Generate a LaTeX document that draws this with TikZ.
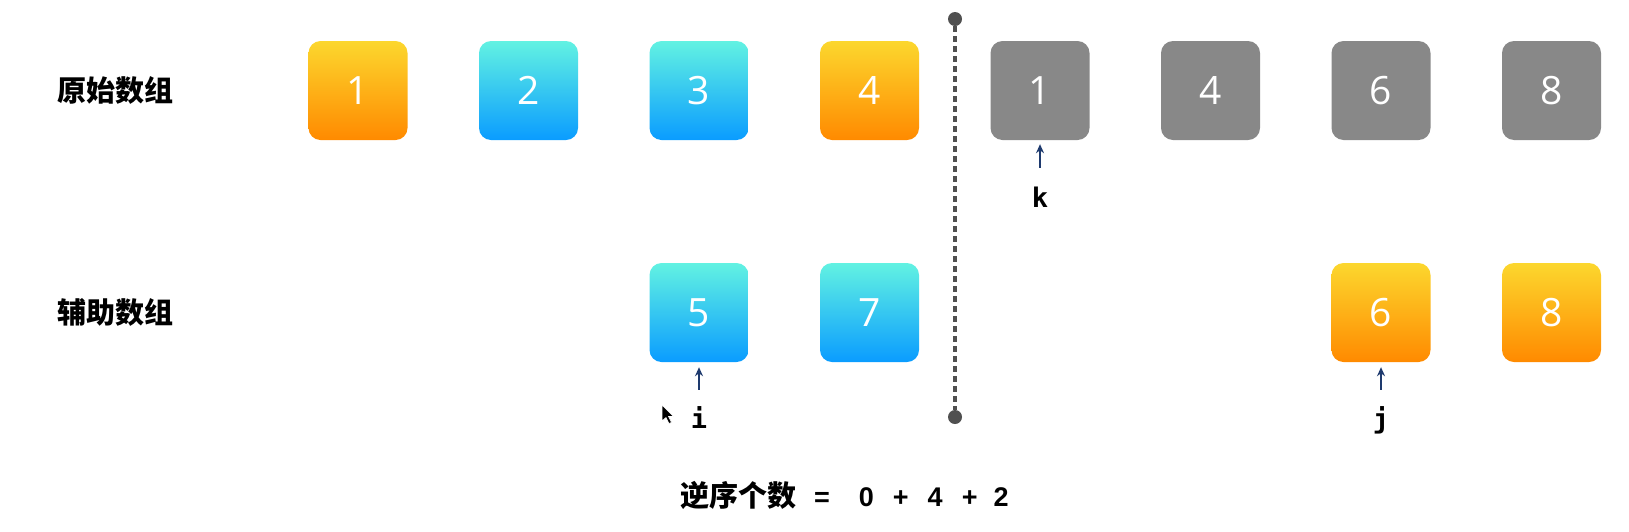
\documentclass[tikz,border=0pt]{standalone}
\usepackage{fontspec}
\usetikzlibrary{arrows.meta}
\newfontfamily\cjk{Noto Sans CJK SC}
\newfontfamily\numfont{Open Sans}
\newfontfamily\monob{DejaVu Sans Mono}
\newfontfamily\eqfont{Liberation Sans}
\definecolor{orTop}{HTML}{FCD72E}
\definecolor{orBot}{HTML}{FF8A00}
\definecolor{blTop}{HTML}{62F2E2}
\definecolor{blBot}{HTML}{0A9CFF}
\definecolor{grBox}{HTML}{888888}
\definecolor{navy}{HTML}{1E3A6E}
\definecolor{dotc}{HTML}{505050}
\tikzset{
  cell/.style={rounded corners=12pt, minimum size=99pt, inner sep=0pt,
    text=white, font=\numfont\fontsize{39}{40}\selectfont},
  orange/.style={cell, top color=orTop, bottom color=orBot},
  blue/.style={cell, top color=blTop, bottom color=blBot},
  gray/.style={cell, fill=grBox},
  rowlabel/.style={anchor=west, inner sep=0pt, font=\cjk\bfseries\fontsize{29}{30}\selectfont},
  ptrlabel/.style={anchor=base, inner sep=0pt, text height=20pt, text depth=6pt,
    font=\monob\bfseries\fontsize{27}{28}\selectfont},
  ptr/.style={draw=navy, line width=1.8pt, -{Stealth[length=9pt,width=8pt]}},
  enddot/.style={circle, fill=dotc, minimum size=14pt, inner sep=0pt},
  divider/.style={draw=dotc, line width=3.5pt, dash pattern=on 6pt off 4pt},
}
\begin{document}
\begin{tikzpicture}[x=1pt, y=-1pt]
\useasboundingbox (0,0) rectangle (1629,531);
% row labels
\node[rowlabel] (lab1) at (57,90.5) {原始数组};
\node[rowlabel] (lab2) at (57,312.5) {辅助数组};
% row 1
\node[orange] (o1) at (358,90.5) {1};
\node[blue]   (o2) at (528.5,90.5) {2};
\node[blue]   (o3) at (699,90.5) {3};
\node[orange] (o4) at (869.5,90.5) {4};
\node[gray]   (o5) at (1040,90.5) {1};
\node[gray]   (o6) at (1210.5,90.5) {4};
\node[gray]   (o7) at (1381,90.5) {6};
\node[gray]   (o8) at (1551.5,90.5) {8};
% row 2
\node[blue]   (a3) at (699,312.5) {5};
\node[blue]   (a4) at (869.5,312.5) {7};
\node[orange] (a7) at (1381,312.5) {6};
\node[orange] (a8) at (1551.5,312.5) {8};
% divider
\node[enddot] (dtop) at (955,19) {};
\node[enddot] (dbot) at (955,417) {};
\draw[divider] (dtop) -- (dbot);
% pointers
\node[ptrlabel] (k) at (1040,207) {k};
\node[ptrlabel] (i) at (699,428) {i};
\node[ptrlabel] (j) at (1381,428) {j};
\draw[ptr] ([yshift=19pt]k.north) -- ([yshift=-4pt]o5.south);
\draw[ptr] ([yshift=18pt]i.north) -- ([yshift=-5pt]a3.south);
\draw[ptr] ([yshift=18pt]j.north) -- ([yshift=-5pt]a7.south);
% mouse cursor
\fill[black, draw=white, line width=0.6pt] (662,405) -- (662,421) -- (666,417.5) -- (669,423.5) -- (671.5,422.5) -- (668.5,416.5) -- (673.5,416.5) -- cycle;
% equation
\node[anchor=west, inner sep=0pt, font=\eqfont\bfseries\fontsize{27}{28}\selectfont] (eq) at (680,495)
  {{\cjk\bfseries\fontsize{29}{30}\selectfont 逆序个数}\hspace{18pt}=\hspace{29pt}0\hspace{19pt}+\hspace{19pt}4\hspace{19pt}+\hspace{16pt}2};
\end{tikzpicture}
\end{document}
